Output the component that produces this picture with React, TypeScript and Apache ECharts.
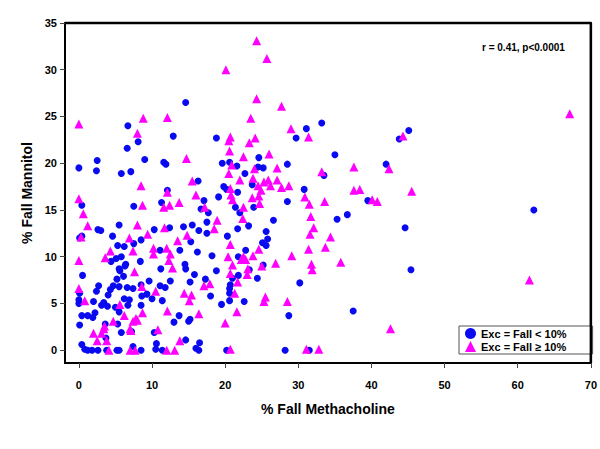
import React, { useEffect, useRef } from "react";
import * as echarts from "echarts";

const xTicks = [0, 10, 20, 30, 40, 50, 60, 70];
const yTicks = [0, 5, 10, 15, 20, 25, 30, 35];

const seriesNames = ["Exc = Fall < 10%", "Exc = Fall \u2265 10%"];

const lowFall: number[][] = [
  [14.6,26.5],[6.7,24.0],[12.9,22.9],[6.6,21.6],[8.1,22.3],[2.5,20.3],[0,19.5],[2.4,19.2],[9.0,20.4],[11.6,20.1],[11.9,19.9],[5.8,18.9],[7.1,19.1],[12.1,17.1],[0.4,15.5],[7.5,15.4],[11.3,15.8],[5.5,13.4],[2.6,12.9],[10.3,12.9],[12.4,13.1],[14.3,13.2],[15.5,13.4],[16.3,18.1],
  [33.2,24.3],[31.1,23.7],[29.7,22.7],[18.8,22.7],[24.6,20.6],[19.6,20.0],[20.6,20.1],[21.6,19.7],[24.5,19.6],[25.2,19.5],[28.5,19.9],[22.7,18.9],[23.7,17.7],[19.8,17.5],[20.2,17.2],[21.7,16.9],[19.1,16.4],[17.1,16.0],[28.5,15.9],[30.8,17.2],[21.4,15.3],[23.9,15.3],[16.7,15.1],[17.7,14.7],[22.0,14.7],[17.5,13.7],[26.6,13.9],[23.2,13.3],[21.7,13.0],[35.0,20.9],[33.5,18.7],
  [3.0,12.8],[0.4,12.2],[0.1,12.0],[4.6,12.2],[8.5,11.8],[7.5,11.4],[5.3,11.2],[6.2,11.1],[11.1,10.7],[13.8,10.7],[15.3,11.6],[5.1,9.8],[5.8,10.0],[4.4,9.5],[6.4,9.2],[6.3,9.0],[5.5,8.7],[5.6,8.5],[8.4,9.5],[11.2,8.7],[14.5,9.2],[14.6,8.7],[0.5,8.0],[6.1,7.9],[5.2,7.6],[9.6,7.4],[12.5,7.4],[15.8,8.1],[15.2,7.3],[2.7,6.9],[4.7,6.9],[4.3,6.5],[5.5,6.8],[6.6,6.7],[7.4,6.6],[8.5,7.0],[11.1,6.9],[11.8,6.7],[2.4,6.3],[4.0,5.9],[0.1,6.1],[6.2,5.5],[6.9,5.4],[8.6,5.8],[9.3,6.0],[10.0,5.5],[11.4,5.3],[0,5.4],[0,5.0],[2.0,5.2],[3.4,5.1],[3.1,4.8],[3.9,4.7],[5.0,4.6],[6.7,4.8],[8.5,4.8],[2.2,4.0],[0.4,3.7],[1.2,3.7],[1.9,3.5],[5.5,4.1],[13.7,3.7],[15.2,3.3],[15.0,3.1],[0.1,2.7],[3.6,2.8],[5.3,2.8],[13.0,3.0],[7.2,2.0],[5.8,1.9],[10.3,1.9],[14.6,1.1],[0.4,0.6],[0.8,0.1],[1.2,0],[1.8,0],[2.6,0],[3.8,0],[5.2,0],[5.5,0],[8.5,0],[10.6,0.7],[10.5,0.1],[11.4,0],[3.7,1.3],[7.4,0.4],[16.0,0.2],
  [16.4,12.8],[17.5,12.5],[20.3,12.2],[25.6,12.7],[25.8,11.9],[25.1,11.5],[25.6,11.2],[22.8,10.7],[16.2,10.5],[18.2,10.1],[21.8,10.0],[25.2,9.1],[18.8,8.5],[23.3,8.6],[21.8,8.0],[21.0,7.7],[24.4,7.7],[17.3,7.6],[20.7,7.0],[20.6,6.6],[20.6,6.1],[30.2,7.2],[18.0,5.8],[20.6,5.3],[22.6,5.2],[19.5,4.9],[28.7,3.7],[16.5,0.8],[16.4,0],[20.2,0],[28.2,0],[31.5,0],
  [45.1,23.5],[43.8,22.6],[42.0,19.9],[39.5,16.0],[35.3,14.0],[36.7,14.5],[44.6,13.1],[45.4,8.6],[37.5,4.2],[62.2,15.0]
];

const highFall: number[][] = [
  [0,24.2],[8.8,24.8],[12.1,24.9],[8.0,23.2],[14.7,20.5],[8.5,17.6],[15.5,18.1],[12.1,16.9],[16.0,16.6],[0,16.2],[8.7,15.5],[11.6,15.3],[12.4,15.5],[13.7,15.8],[0.6,14.6],[1.2,13.3],[8.0,13.4],[11.7,13.1],
  [0.3,12.1],[6.9,12.0],[9.4,12.4],[13.5,11.7],[14.8,12.3],[4.3,10.6],[3.6,9.9],[7.4,10.6],[10.2,10.9],[10.2,10.3],[12.0,10.9],[12.5,10.3],[12.3,9.6],[0,9.6],[7.6,8.4],[12.8,8.8],[0,6.6],[8.6,6.8],[10.5,6.3],[14.4,6.1],[15.4,5.9],[15.1,5.3],[0.8,5.3],[5.6,4.9],[8.7,4.0],[12.1,4.2],[6.2,3.7],[7.8,3.4],[8.0,3.2],[7.4,3.1],[4.7,3.1],[3.5,2.6],[3.4,2.3],[7.0,2.3],[7.1,2.1],[2.0,1.8],[3.1,1.8],[2.5,1.0],[3.8,1.0],[10.8,2.2],[13.8,1.0],[4.1,0],[7.0,0],[7.7,0],[12.0,0],[13.1,0],
  [24.3,26.9],[27.7,26.1],[23.5,24.8],[29.0,23.7],[31.4,22.8],[20.7,22.8],[20.5,22.4],[24.1,22.7],[23.3,22.2],[20.6,21.3],[22.5,20.7],[26.0,21.0],[20.9,19.8],[24.0,19.4],[27.1,19.5],[20.5,18.9],[33.2,19.1],[22.0,18.2],[23.8,18.4],[25.3,18.0],[25.9,18.2],[26.2,17.6],[27.1,18.2],[24.5,17.6],[24.9,17.1],[27.7,17.4],[28.7,17.6],[20.7,17.3],[20.8,16.6],[21.0,16.1],[23.7,16.3],[24.6,16.5],[24.7,15.7],[30.9,16.4],[31.5,15.6],[33.6,15.9],[22.5,15.3],[17.2,15.3],[18.9,13.9],[22.4,14.1],[31.7,14.3],[18.5,13.0],[32.1,13.1],[24.3,33.1],[25.7,31.2],[20.1,30.0],
  [31.6,12.4],[34.4,12.1],[20.7,11.3],[24.6,10.8],[31.4,10.8],[33.7,11.0],[20.4,10.0],[22.5,10.0],[22.2,9.7],[22.8,9.7],[23.8,10.1],[29.1,10.1],[26.9,9.3],[21.0,9.1],[25.0,9.0],[31.8,9.2],[31.9,8.6],[23.1,8.7],[23.0,8.1],[20.7,8.2],[21.7,7.3],[17.9,7.1],[17.1,6.9],[21.3,6.1],[25.5,5.7],[25.3,5.2],[28.5,5.2],[21.6,4.1],[16.4,3.9],[20.0,2.9],[20.7,0.1],[31.1,0.1],[32.8,0.1],[35.8,9.4],
  [44.3,22.9],[37.6,19.6],[42.4,19.4],[37.6,17.1],[38.4,17.2],[45.5,17.0],[40.1,16.1],[40.8,15.9],[42.6,2.3],[67.1,25.3],[61.6,7.5]
];

const FONT = "Arial, 'Liberation Sans', Helvetica, sans-serif";
const X_MIN = -1.9;
const X_MAX = 70;
const Y_MIN = -1.37;
const Y_MAX = 35;
const frameCorners: number[][] = [[X_MIN, Y_MAX], [X_MAX, Y_MAX], [X_MAX, Y_MIN]];

export default function App() {
  const ref = useRef<HTMLDivElement>(null);
  useEffect(() => {
    if (!ref.current) return;
    const chart = echarts.init(ref.current, null, { renderer: "svg" });
    const L = 65, T = 23, R = 595, B = 363;
    chart.setOption({
      animation: false,
      backgroundColor: "#ffffff",
      grid: {
        left: L,
        right: 600 - R,
        top: T,
        bottom: 449 - B,
        show: true,
        borderColor: "#000",
        borderWidth: 2,
      },
      xAxis: {
        type: "value",
        min: X_MIN,
        max: X_MAX,
        name: "% Fall Methacholine",
        nameLocation: "middle",
        nameGap: 39,
        nameTextStyle: { fontFamily: FONT, fontWeight: "bold", fontSize: 14, color: "#000" },
        axisLine: { show: true, onZero: false, lineStyle: { color: "#000", width: 2 } },
        axisTick: { show: true, inside: false, length: 5, customValues: xTicks, lineStyle: { color: "#444", width: 1 } },
        axisLabel: { customValues: xTicks, margin: 16, fontFamily: FONT, fontWeight: "bold", fontSize: 11, color: "#000" },
        splitLine: { show: false },
      },
      yAxis: {
        type: "value",
        min: Y_MIN,
        max: Y_MAX,
        name: "% Fall Mannitol",
        nameLocation: "middle",
        nameGap: 26,
        nameTextStyle: { fontFamily: FONT, fontWeight: "bold", fontSize: 14, color: "#000" },
        axisLine: { show: true, onZero: false, lineStyle: { color: "#000", width: 2 } },
        axisTick: { show: true, inside: false, length: 5, customValues: yTicks, lineStyle: { color: "#444", width: 1 } },
        axisLabel: { customValues: yTicks, margin: 8, fontFamily: FONT, fontWeight: "bold", fontSize: 11, color: "#000" },
        splitLine: { show: false },
      },
      legend: {
        show: true,
        orient: "vertical",
        left: 459,
        top: 326,
        padding: [2, 26, 2, 6],
        itemGap: 2,
        itemWidth: 11,
        itemHeight: 11,
        borderColor: "#555",
        borderWidth: 1,
        backgroundColor: "#fff",
        textStyle: { fontFamily: FONT, fontWeight: "bold", fontSize: 11, color: "#000" },
        data: [
          { name: seriesNames[0], icon: "circle" },
          { name: seriesNames[1], icon: "triangle" },
        ],
      },
      graphic: [
        {
          type: "text",
          x: 482,
          y: 42,
          style: { text: "r = 0.41, p<0.0001", fontFamily: FONT, fontWeight: "bold", fontSize: 10, fill: "#000" },
        },
      ],
      series: [
        {
          name: "frame",
          type: "line",
          data: frameCorners,
          symbol: "none",
          clip: false,
          silent: true,
          lineStyle: { color: "#000", width: 2.5 },
          z: 10,
        },
        {
          name: seriesNames[0],
          type: "scatter",
          symbol: "circle",
          symbolSize: 7,
          itemStyle: { color: "#0a0af0", opacity: 1 },
          data: lowFall,
          z: 2,
        },
        {
          name: seriesNames[1],
          type: "scatter",
          symbol: "triangle",
          symbolSize: 9,
          itemStyle: { color: "#ff00ff", opacity: 1 },
          data: highFall,
          z: 3,
        },
      ],
    });
    return () => chart.dispose();
  }, []);
  return <div ref={ref} style={{ position: "absolute", left: 0, top: 0, width: 600, height: 449 }} />;
}
